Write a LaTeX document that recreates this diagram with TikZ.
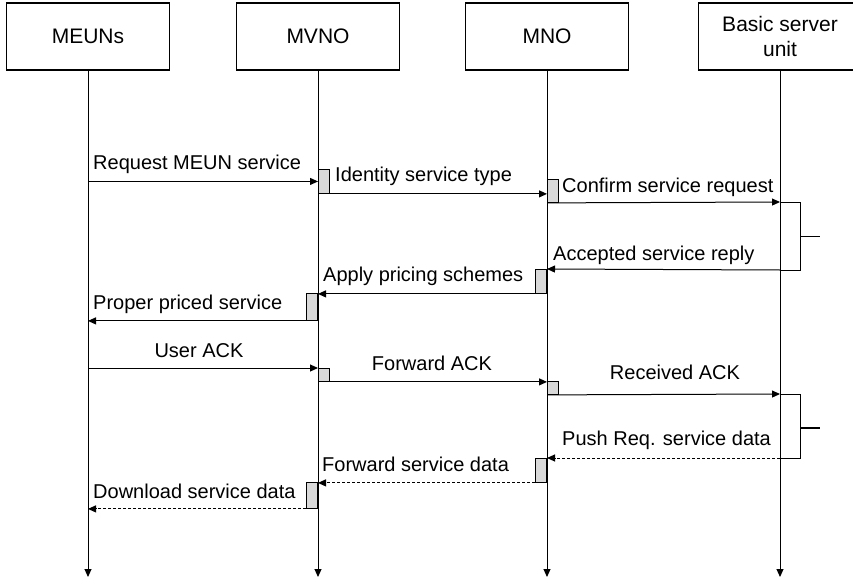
\documentclass[tikz,border=0pt]{standalone}
\usepackage{fontspec}
\setmainfont{Liberation Sans}
\usetikzlibrary{arrows.meta}
\begin{document}
\begin{tikzpicture}[x=1pt,y=-1pt,
  font=\fontsize{20}{23}\selectfont,
  actor/.style={draw,line width=1.2pt,fill=white,minimum width=163pt,minimum height=67pt,inner sep=0pt,align=center,font=\fontsize{21}{25}\selectfont},
  life/.style={line width=1pt,-{Triangle[length=8pt,width=7pt]}},
  act/.style={draw,line width=0.9pt,fill=black!15,minimum width=11pt,inner sep=0pt},
  msg/.style={line width=1pt,-{Triangle[length=8pt,width=7pt]}},
  rmsg/.style={msg,dash pattern=on 3pt off 2pt},
  loopline/.style={line width=1pt},
  lbl/.style={inner sep=0pt}]
\useasboundingbox (0,0) rectangle (853,580);
\clip (0,0) rectangle (853,580);

% participants
\node[actor] (meuns) at (88,36.5) {MEUNs};
\node[actor] (mvno) at (318,36.5) {MVNO};
\node[actor] (mno) at (547,36.5) {MNO};
\node[actor] (bsu) at (780,36.5) {Basic server\\unit};

% lifelines
\coordinate (meunsEnd) at (88,577);
\coordinate (mvnoEnd) at (318,577);
\coordinate (mnoEnd) at (547,577);
\coordinate (bsuEnd) at (780,577);
\draw[life] (meuns.south) -- (meunsEnd);
\draw[life] (mvno.south) -- (mvnoEnd);
\draw[life] (mno.south) -- (mnoEnd);
\draw[life] (bsu.south) -- (bsuEnd);

% activation bars
\node[act,minimum height=24pt,anchor=north west] (act1) at (318,169) {};
\node[act,minimum height=23pt,anchor=north west] (act2) at (547,179) {};
\node[act,minimum height=24pt,anchor=north east] (act3) at (547,269) {};
\node[act,minimum height=27pt,anchor=north east] (act4) at (318,293) {};
\node[act,minimum height=13pt,anchor=north west] (act5) at (318,368) {};
\node[act,minimum height=13pt,anchor=north west] (act6) at (547,381) {};
\node[act,minimum height=24pt,anchor=north east] (act7) at (547,458) {};
\node[act,minimum height=26pt,anchor=north east] (act8) at (318,482) {};

% self loops on the basic server unit
\coordinate (loopAin) at (780,202);
\coordinate (loopAout) at (780,270);
\coordinate (loopBin) at (780,394);
\coordinate (loopBout) at (780,458);
\draw[loopline] (loopAin) -- (800,202) -- (800,270) -- (loopAout);
\draw[loopline] (800,236) -- (820,236);
\draw[loopline] (loopBin) -- (800,394) -- (800,458) -- (loopBout);
\draw[line width=2pt] (800,428) -- (820,428);

% requests
\draw[msg] (act1.west -| meuns) -- (act1.west);
\draw[msg] (act1.south west) -- (act1.south west -| mno);
\draw[msg] (act2.south west) -- (loopAin);
\draw[msg] (loopAout) -- (act3.north east);
\draw[msg] (act3.south west) -- (act3.south west -| mvno);
\draw[msg] (act4.south west) -- (act4.south west -| meuns);
\draw[msg] (act5.north west -| meuns) -- (act5.north west);
\draw[msg] (act5.south west) -- (act5.south west -| mno);
\draw[msg] (act6.south west) -- (loopBin);
\draw[rmsg] (loopBout) -- (act7.north east);
\draw[rmsg] (act7.south west) -- (act7.south west -| mvno);
\draw[rmsg] (act8.south west) -- (act8.south west -| meuns);

% message labels
\node[lbl,anchor=base west] (t1) at (93,169) {Request MEUN service};
\node[lbl,anchor=base west] (t2) at (335,182) {Identity service type};
\node[lbl,anchor=base west] (t3) at (562,192) {Confirm service request};
\node[lbl,anchor=base west] (t4) at (553,260) {Accepted service reply};
\node[lbl,anchor=base west] (t5) at (323,281) {Apply pricing schemes};
\node[lbl,anchor=base west] (t6) at (93,309) {Proper priced service};
\node[lbl,anchor=base] (t7) at (199,357) {User ACK};
\node[lbl,anchor=base] (t8) at (432,370) {Forward ACK};
\node[lbl,anchor=base] (t9) at (675,379) {Received ACK};
\node[lbl,anchor=base west] (t10) at (562,445) {Push Req. service data};
\node[lbl,anchor=base west] (t11) at (322,471) {Forward service data};
\node[lbl,anchor=base west] (t12) at (93,498) {Download service data};
\end{tikzpicture}
\end{document}
